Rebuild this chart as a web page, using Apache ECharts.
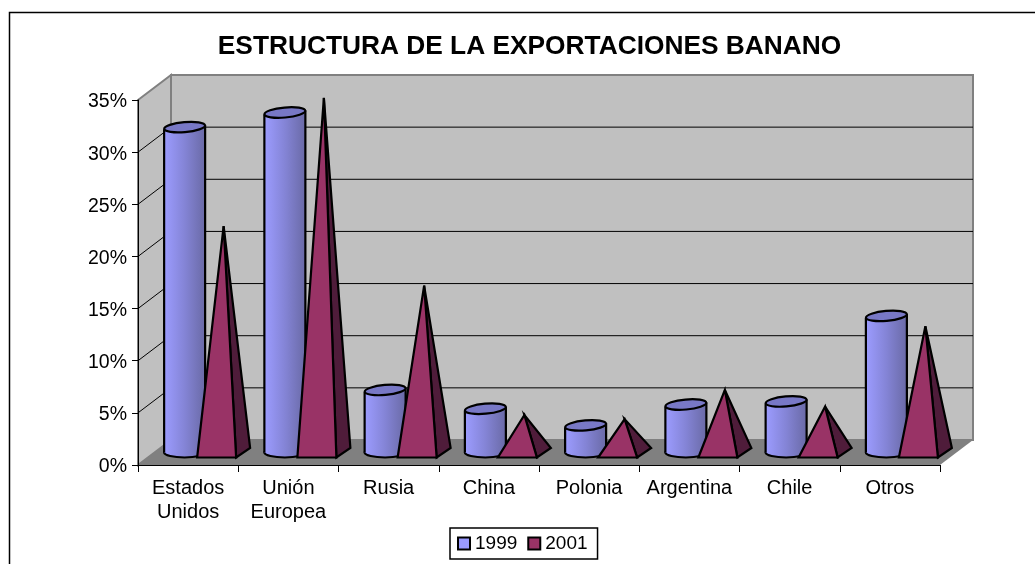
<!DOCTYPE html>
<html>
<head>
<meta charset="utf-8">
<script src="https://cdn.jsdelivr.net/npm/echarts@6/dist/echarts.min.js"></script>
<style>
  html, body { margin: 0; padding: 0; background: #fff; overflow: hidden; }
  #chart { width: 1035px; height: 564px; }
</style>
</head>
<body>
<div id="chart"></div>
<script>
const categories = ['Estados\nUnidos', 'Unión\nEuropea', 'Rusia', 'China', 'Polonia', 'Argentina', 'Chile', 'Otros'];
const values1999 = [31.2, 32.6, 6.0, 4.2, 2.6, 4.6, 4.9, 13.1];
const values2001 = [21.7, 34.0, 16.0, 3.6, 3.2, 6.0, 4.4, 12.1];
const yTicks = [5, 10, 15, 20, 25, 30, 35];

// depth of the fake 3D box, in pixels
const DEPTH_X = 33;
const DEPTH_Y = 25;

const chart = echarts.init(document.getElementById('chart'));

function renderWalls(params, api) {
    const band = api.size([1, 0])[0];
    const x0 = api.coord([0, 0])[0] - band / 2;
    const x1 = api.coord([categories.length - 1, 0])[0] + band / 2;
    const y0 = api.coord([0, 0])[1];
    const yTop = api.coord([0, 35])[1];
    const edge = { fill: '#c0c0c0', stroke: '#808080', lineWidth: 2 };
    return {
        type: 'group',
        children: [
            { type: 'polygon', shape: { points: [[x0 + DEPTH_X, yTop - DEPTH_Y], [x1 + DEPTH_X, yTop - DEPTH_Y], [x1 + DEPTH_X, y0 - DEPTH_Y], [x0 + DEPTH_X, y0 - DEPTH_Y]] }, style: edge },
            { type: 'polygon', shape: { points: [[x0, yTop], [x0 + DEPTH_X, yTop - DEPTH_Y], [x0 + DEPTH_X, y0 - DEPTH_Y], [x0, y0]] }, style: edge },
            { type: 'polygon', shape: { points: [[x0, y0], [x1, y0], [x1 + DEPTH_X, y0 - DEPTH_Y], [x0 + DEPTH_X, y0 - DEPTH_Y]] }, style: { fill: '#808080' } }
        ]
    };
}

function renderGridLine(params, api) {
    const band = api.size([1, 0])[0];
    const v = api.value(0);
    const x0 = api.coord([0, v])[0] - band / 2;
    const x1 = api.coord([categories.length - 1, v])[0] + band / 2;
    const y = api.coord([0, v])[1];
    const pts = [[x0, y], [x0 + DEPTH_X, y - DEPTH_Y], [x1 + DEPTH_X, y - DEPTH_Y]];
    if (v === 35) return { type: 'group', children: [] };
    return { type: 'polyline', shape: { points: pts }, style: { fill: null, stroke: '#000', lineWidth: 1 } };
}

function renderCylinder(params, api) {
    const p = api.coord([api.value(0), api.value(1)]);
    const base = api.coord([api.value(0), 0]);
    const cx = p[0] + DEPTH_X / 2 - 20;
    const top = p[1] - DEPTH_Y / 2;
    const bot = base[1] - DEPTH_Y / 2;
    const rx = 20.5, ry = 5;
    const fill = new echarts.graphic.LinearGradient(0, 0, 1, 0, [
        { offset: 0, color: '#9c9cff' },
        { offset: 0.5, color: '#8484d6' },
        { offset: 1, color: '#6a6aa6' }
    ]);
    const line = { stroke: '#000', lineWidth: 2.2 };
    return {
        type: 'group',
        children: [
            { type: 'ellipse', shape: { cx: cx, cy: bot, rx: rx, ry: ry }, style: { fill: fill, stroke: '#000', lineWidth: 2.2 } },
            { type: 'polygon', shape: { points: [[cx - rx, top + 2], [cx + rx, top - 2], [cx + rx, bot], [cx - rx, bot]] }, style: { fill: fill } },
            { type: 'line', shape: { x1: cx - rx, y1: top + 2, x2: cx - rx, y2: bot }, style: line },
            { type: 'line', shape: { x1: cx + rx, y1: top - 2, x2: cx + rx, y2: bot }, style: line },
            { type: 'ellipse', x: cx, y: top, rotation: 0.09, shape: { cx: 0, cy: 0, rx: rx, ry: ry }, style: { fill: '#7878c6', stroke: '#000', lineWidth: 2.2 } }
        ]
    };
}

function renderPyramid(params, api) {
    const p = api.coord([api.value(0), api.value(1)]);
    const base = api.coord([api.value(0), 0]);
    const cx = p[0] + DEPTH_X / 2 + 19;
    const top = p[1] - DEPTH_Y / 2;
    const bot = base[1] - DEPTH_Y / 2;
    const apex = [cx, top];
    const fl = [cx - 26.5, bot + 5];
    const fr = [cx + 12.5, bot + 5];
    const br = [cx + 26.5, bot - 4.5];
    const line = { stroke: '#000', lineWidth: 2.2, lineJoin: 'miter', miterLimit: 6 };
    return {
        type: 'group',
        children: [
            { type: 'polygon', shape: { points: [apex, fr, br] }, style: Object.assign({ fill: '#4f1c3a' }, line) },
            { type: 'polygon', shape: { points: [apex, fl, fr] }, style: Object.assign({ fill: '#993366' }, line) }
        ]
    };
}

const option = {
    animation: false,
    textStyle: { fontFamily: 'Liberation Sans', color: '#000' },
    title: {
        text: 'ESTRUCTURA DE LA EXPORTACIONES BANANO',
        left: 524.5,
        top: 29,
        textAlign: 'center',
        textStyle: { fontFamily: 'Liberation Sans', fontSize: 26.3, fontWeight: 'bold', color: '#000' }
    },
    graphic: [{
        type: 'polyline',
        shape: { points: [[9.5, 564], [9.5, 12.5], [1035, 12.5]] },
        style: { fill: null, stroke: '#000', lineWidth: 1.5 }
    }],
    legend: {
        data: ['1999', '2001'],
        left: 450,
        top: 528,
        orient: 'horizontal',
        padding: [6, 10, 6, 7],
        itemGap: 10,
        itemWidth: 12,
        itemHeight: 12,
        icon: 'rect',
        borderColor: '#000',
        borderWidth: 1.5,
        backgroundColor: '#fff',
        textStyle: { fontFamily: 'Liberation Sans', fontSize: 19, color: '#000' },
        itemStyle: { borderColor: '#000', borderWidth: 2 }
    },
    grid: { left: 138, right: 95, top: 100, bottom: 99 },
    xAxis: {
        type: 'category',
        data: categories,
        z: 1,
        axisLine: { lineStyle: { color: '#000', width: 1 } },
        axisTick: { show: true, alignWithLabel: false, length: 7, lineStyle: { color: '#000' } },
        axisLabel: { color: '#000', fontSize: 20, lineHeight: 24, margin: 11, interval: 0, fontFamily: 'Liberation Sans' }
    },
    yAxis: {
        type: 'value',
        min: 0,
        max: 35,
        interval: 5,
        z: 1,
        axisLine: { show: true, lineStyle: { color: '#000', width: 1 } },
        axisTick: { show: true, length: 6, lineStyle: { color: '#000' } },
        splitLine: { show: false },
        axisLabel: { formatter: '{value}%', color: '#000', fontSize: 19.5, margin: 11, verticalAlign: 'top', lineHeight: 4, fontFamily: 'Liberation Sans' }
    },
    series: [
        { type: 'custom', name: 'paredes', z: 0, silent: true, clip: false, renderItem: renderWalls, data: [[0, 0]], encode: { x: 0, y: 1 } },
        { type: 'custom', name: 'rejilla', z: 0, silent: true, clip: false, renderItem: renderGridLine, data: yTicks.map(v => [v]) },
        {
            type: 'custom', name: '1999', z: 2, clip: false, renderItem: renderCylinder,
            itemStyle: { color: '#9999ff' },
            encode: { x: 0, y: 1 },
            data: values1999.map((v, i) => [i, v])
        },
        {
            type: 'custom', name: '2001', z: 3, clip: false, renderItem: renderPyramid,
            itemStyle: { color: '#993366' },
            encode: { x: 0, y: 1 },
            data: values2001.map((v, i) => [i, v])
        }
    ]
};
chart.setOption(option);
</script>
</body>
</html>
